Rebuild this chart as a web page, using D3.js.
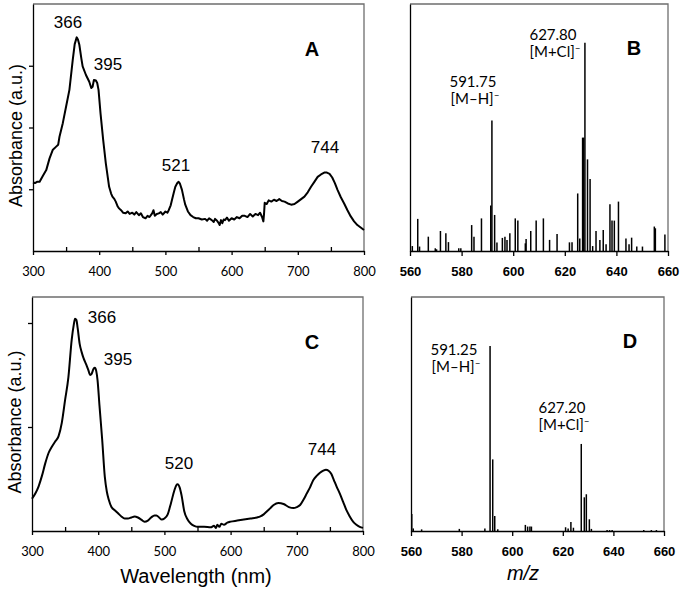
<!DOCTYPE html>
<html>
<head>
<meta charset="utf-8">
<script src="https://cdn.jsdelivr.net/npm/d3@7"></script>
<style>
	body { margin: 0; background: #fff; }
	svg { display: block; }
	.spec { fill: none; stroke: #000; stroke-width: 2; stroke-linejoin: round; }
	.bar { stroke: #000; stroke-width: 1.5; }
	.frame { fill: none; stroke: #6e6e6e; stroke-width: 1.3; }
	.axis path, .axis line { stroke: #000; stroke-width: 1.3; }
</style>
</head>
<body>
<div id="root"></div>
<script>
// UV-vis spectra [wavelength nm, absorbance a.u.]
const specA = [[300,1.11],[303,1.10],[306,1.12],[310,1.12],[315,1.22],[320,1.31],[325,1.50],[330,1.64],[335,1.69],[338,1.72],[340,1.85],[345,2.07],[350,2.34],[355,2.61],[360,3.09],[363,3.35],[366,3.46],[368,3.42],[370,3.34],[373,3.12],[375,2.99],[380,2.85],[385,2.74],[388,2.64],[390,2.66],[392,2.77],[395,2.76],[397,2.72],[399,2.61],[402,2.23],[406,1.80],[410,1.42],[415,1.04],[418,0.93],[420,0.88],[423,0.84],[425,0.80],[428,0.72],[430,0.69],[433,0.66],[436,0.62],[440,0.61],[443,0.64],[446,0.60],[450,0.62],[453,0.59],[456,0.63],[460,0.58],[463,0.61],[466,0.55],[470,0.53],[473,0.57],[476,0.55],[480,0.61],[482,0.66],[484,0.57],[487,0.60],[490,0.61],[493,0.63],[496,0.59],[500,0.64],[503,0.62],[505,0.66],[508,0.74],[510,0.83],[513,0.96],[515,1.04],[518,1.10],[520,1.12],[522,1.09],[525,0.99],[528,0.84],[530,0.75],[534,0.64],[538,0.58],[542,0.55],[546,0.53],[550,0.53],[555,0.51],[560,0.52],[563,0.49],[566,0.53],[570,0.50],[573,0.47],[575,0.52],[578,0.49],[580,0.46],[582,0.42],[584,0.50],[586,0.45],[588,0.51],[590,0.50],[593,0.54],[596,0.49],[600,0.53],[604,0.51],[608,0.55],[612,0.53],[616,0.57],[620,0.57],[624,0.55],[628,0.60],[632,0.56],[636,0.60],[640,0.58],[643,0.62],[646,0.55],[648,0.48],[649,0.60],[650,0.78],[653,0.76],[656,0.82],[660,0.80],[664,0.83],[668,0.81],[672,0.84],[676,0.81],[680,0.80],[685,0.77],[690,0.75],[695,0.76],[700,0.80],[705,0.84],[710,0.88],[715,0.95],[720,1.04],[725,1.12],[730,1.20],[735,1.24],[740,1.27],[744,1.27],[748,1.25],[752,1.19],[756,1.10],[760,0.99],[765,0.87],[770,0.77],[775,0.66],[780,0.56],[785,0.48],[790,0.42],[795,0.38],[800,0.34]]

const specC = [[300,0.31],[305,0.36],[310,0.43],[315,0.53],[320,0.65],[325,0.75],[330,0.81],[335,0.86],[340,0.91],[345,1.04],[350,1.26],[355,1.48],[360,1.84],[363,1.98],[365,2.04],[367,2.03],[369,1.95],[372,1.80],[375,1.72],[378,1.66],[382,1.60],[385,1.55],[388,1.50],[390,1.51],[393,1.56],[395,1.57],[397,1.54],[399,1.45],[402,1.20],[406,0.88],[410,0.52],[413,0.38],[416,0.30],[420,0.23],[425,0.20],[430,0.17],[435,0.14],[440,0.12],[445,0.12],[450,0.13],[455,0.14],[460,0.13],[465,0.11],[470,0.09],[475,0.10],[480,0.13],[485,0.15],[488,0.15],[492,0.13],[496,0.11],[500,0.12],[505,0.16],[510,0.27],[515,0.39],[518,0.44],[520,0.45],[523,0.42],[526,0.34],[530,0.19],[535,0.11],[540,0.07],[545,0.05],[550,0.04],[560,0.04],[570,0.035],[575,0.05],[578,0.03],[580,0.06],[583,0.04],[586,0.07],[590,0.06],[595,0.08],[600,0.09],[610,0.10],[620,0.11],[630,0.12],[640,0.13],[645,0.14],[650,0.16],[655,0.19],[660,0.22],[665,0.25],[672,0.27],[680,0.26],[688,0.23],[695,0.22],[700,0.23],[705,0.25],[710,0.30],[715,0.36],[720,0.42],[725,0.49],[730,0.53],[735,0.56],[740,0.58],[744,0.59],[748,0.58],[752,0.55],[756,0.49],[760,0.43],[765,0.36],[770,0.28],[775,0.20],[780,0.14],[785,0.09],[790,0.06],[795,0.04],[800,0.03]]

// mass spectra [m/z, relative intensity]
const msB = [[560.9,2.0],[563.0,13.0],[563.7,1.8],[567.1,5.8],[569.8,1.1],[570.3,0.7],[571.8,8.1],[573.9,7.2],[574.9,3.6],[578.9,1.1],[579.7,1.1],[583.9,10.5],[584.8,5.8],[587.7,13.2],[591.3,18.4],[591.75,52.8],[592.8,14.6],[593.7,3.4],[595.8,5.3],[596.8,5.8],[597.6,4.5],[598.7,7.2],[600.8,13.2],[601.8,12.3],[604.7,3.1],[605.0,4.9],[606.8,8.1],[608.9,12.3],[611.7,13.2],[614.1,4.5],[617.0,6.9],[621.8,3.5],[622.8,3.5],[625.0,23.3],[625.8,5.1],[626.9,45.9],[627.3,45.9],[627.8,84.3],[628.8,37.1],[629.8,29.1],[630.8,2.0],[632.1,8.1],[633.6,4.5],[634.9,8.5],[636.0,2.7],[637.5,18.9],[638.3,12.3],[639.2,12.3],[640.8,20.0],[643.7,5.1],[644.9,2.7],[645.9,5.4],[647.9,1.8],[650.1,1.8],[654.7,9.9],[655.1,9.2],[658.8,6.7]]

const msD = [[560.3,7.3],[560.9,1.1],[564.2,0.7],[579.1,0.9],[589.2,1.1],[591.25,79.1],[592.3,30.6],[593.1,6.4],[594.3,0.7],[605.2,2.6],[606.1,1.9],[607.0,1.9],[607.6,1.9],[621.1,1.6],[622.1,1.1],[623.2,3.8],[624.2,1.4],[627.3,37.2],[628.5,14.4],[629.3,15.7],[630.5,5.0],[631.3,0.9],[637.5,0.4],[638.5,0.4],[639.5,0.4],[652,0.4],[655,0.4],[657,0.4]]

// peak labels
const peaksA = [['366',68,28],['395',108,70],['521',176,171],['744',325,153]]
const peaksC = [['366',102,323],['395',118,365],['520',179,469],['744',322,455]]
const ionsB = [['591.75','[M\u2013H]',473,87],['627.80','[M+Cl]',553,40]]
const ionsD = [['591.25','[M\u2013H]',454,355],['627.20','[M+Cl]',562,413]]

const uvTicks = [300, 400, 500, 600, 700, 800]
const uvMinor = [350, 450, 550, 650, 750]
const msTicks = [560, 580, 600, 620, 640, 660]

const svg = d3.select('#root').append('svg')
	.attr('width', 685)
	.attr('height', 591)

function uvPanel (spec, box, yMax, yTicks, peaks, letter, curve) {
	const x = d3.scaleLinear().domain([300, 800]).range([box.l, box.r])
	const y = d3.scaleLinear().domain([0, yMax]).range([box.b, box.t])
	const g = svg.append('g')

	// grey frame on top and right
	g.append('path')
		.attr('class', 'frame')
		.attr('d', `M${box.l},${box.t}H${box.r}V${box.b}`)

	g.append('path')
		.datum(spec)
		.attr('class', 'spec')
		.attr('d', d3.line().x(d => x(d[0])).y(d => y(d[1])).curve(curve))

	g.append('g')
		.attr('class', 'axis')
		.attr('transform', `translate(0,${box.b})`)
		.call(d3.axisBottom(x).tickValues(uvTicks).tickSize(4).tickSizeOuter(0).tickFormat(d3.format('d')))
		.call(a => a.selectAll('text')
			.attr('dy', '1.35em')
			.attr('font-family', 'Lato, sans-serif')
			.attr('font-size', 13)
			.attr('fill', '#000'))

	// minor ticks point inwards
	g.append('g')
		.attr('class', 'axis')
		.attr('transform', `translate(0,${box.b})`)
		.call(d3.axisTop(x).tickValues(uvMinor).tickSize(4).tickFormat(''))
		.call(a => a.select('.domain').remove())

	g.append('g')
		.attr('class', 'axis')
		.attr('transform', `translate(${box.l},0)`)
		.call(d3.axisLeft(y).tickValues(yTicks).tickSize(4).tickSizeOuter(0).tickFormat(''))

	g.append('text')
		.attr('transform', `translate(${box.l - 11},${(box.t + box.b) / 2 + 8}) rotate(-90)`)
		.attr('text-anchor', 'middle')
		.attr('font-family', 'Liberation Sans, Arial, sans-serif')
		.attr('font-size', 18)
		.text('Absorbance (a.u.)')

	g.selectAll('.peak')
		.data(peaks)
		.enter()
		.append('text')
		.attr('class', 'peak')
		.attr('x', d => d[1])
		.attr('y', d => d[2])
		.attr('text-anchor', 'middle')
		.attr('font-family', 'Liberation Sans, Arial, sans-serif')
		.attr('font-size', 17)
		.text(d => d[0])

	g.append('text')
		.attr('x', 312)
		.attr('y', box.t + 52)
		.attr('text-anchor', 'middle')
		.attr('font-family', 'Liberation Sans, Arial, sans-serif')
		.attr('font-weight', 'bold')
		.attr('font-size', 20)
		.text(letter)
}

function msPanel (ms, box, ions, letter) {
	const x = d3.scaleLinear().domain([560, 660]).range([box.l, box.r])
	const y = d3.scaleLinear().domain([0, 100]).range([box.b, box.t])
	const g = svg.append('g')

	g.append('path')
		.attr('class', 'frame')
		.attr('d', `M${box.l},${box.t}H${box.r}V${box.b}`)

	g.selectAll('.bar')
		.data(ms)
		.enter()
		.append('line')
		.attr('class', 'bar')
		.attr('x1', d => x(d[0]))
		.attr('x2', d => x(d[0]))
		.attr('y1', y(0))
		.attr('y2', d => y(d[1]))

	g.append('g')
		.attr('class', 'axis')
		.attr('transform', `translate(0,${box.b})`)
		.call(d3.axisBottom(x).tickValues(msTicks).tickSize(5).tickSizeOuter(0))
		.call(a => a.selectAll('text')
			.attr('dy', '1.3em')
			.attr('font-family', 'Liberation Sans, Arial, sans-serif')
			.attr('font-weight', 'bold')
			.attr('font-size', 13)
			.attr('fill', '#000'))

	g.append('g')
		.attr('class', 'axis')
		.attr('transform', `translate(${box.l},0)`)
		.call(d3.axisLeft(y).tickValues([]).tickSizeOuter(0))

	const lab = g.selectAll('.ion')
		.data(ions)
		.enter()
		.append('text')
		.attr('class', 'ion')
		.attr('text-anchor', 'middle')
		.attr('font-family', 'Lato, sans-serif')
		.attr('font-size', 15)

	lab.append('tspan')
		.attr('x', d => d[2])
		.attr('y', d => d[3])
		.text(d => d[0])

	lab.append('tspan')
		.attr('x', d => d[2] + 2)
		.attr('y', d => d[3] + 17)
		.text(d => d[1])

	lab.append('tspan')
		.attr('dy', -6)
		.attr('font-size', 10)
		.text('\u2013')

	g.append('text')
		.attr('x', box.r - 34)
		.attr('y', box.t + 51)
		.attr('text-anchor', 'middle')
		.attr('font-family', 'Liberation Sans, Arial, sans-serif')
		.attr('font-weight', 'bold')
		.attr('font-size', 20)
		.text(letter)
}

uvPanel(specA, {l: 33, r: 364, t: 4, b: 251}, 4, [1, 2, 3], peaksA, 'A', d3.curveLinear)
msPanel(msB, {l: 410, r: 668, t: 4, b: 251}, ionsB, 'B')
uvPanel(specC, {l: 32, r: 363, t: 297, b: 531}, 2.25, [1, 2], peaksC, 'C', d3.curveMonotoneX)
msPanel(msD, {l: 411, r: 664, t: 297, b: 531}, ionsD, 'D')

// bottom axis titles
svg.append('text')
	.attr('x', 196)
	.attr('y', 583)
	.attr('text-anchor', 'middle')
	.attr('font-family', 'Liberation Sans, Arial, sans-serif')
	.attr('font-size', 20)
	.text('Wavelength (nm)')

svg.append('text')
	.attr('x', 523)
	.attr('y', 580)
	.attr('text-anchor', 'middle')
	.attr('font-family', 'Liberation Sans, Arial, sans-serif')
	.attr('font-style', 'italic')
	.attr('font-size', 20)
	.text('m/z')
</script>
</body>
</html>
